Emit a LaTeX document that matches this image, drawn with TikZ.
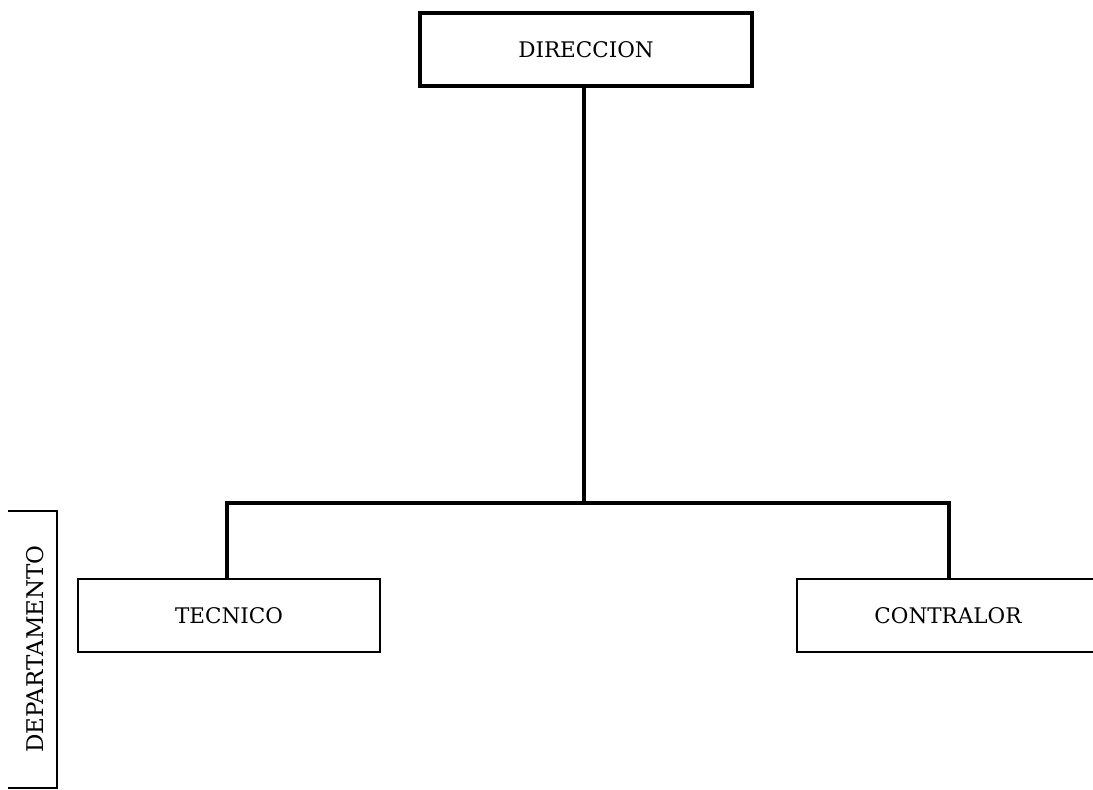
\documentclass[tikz,border=0pt]{standalone}
\usepackage{fontspec}
\setmainfont{DejaVu Serif}
\usepackage{tikz}
\begin{document}
\begin{tikzpicture}[x=1pt,y=-1pt,
  lbl/.style={font=\fontsize{21.5}{25}\selectfont},
  topbox/.style={lbl, draw, line width=4pt, minimum width=332pt, minimum height=73pt, inner sep=0pt},
  deptbox/.style={lbl, draw, line width=2.4pt, minimum width=302pt, minimum height=73pt, inner sep=0pt},
  link/.style={line width=4.5pt},
  bracket/.style={line width=2pt}]
\useasboundingbox (0,0) rectangle (1093,790);
\clip (0,0) rectangle (1093,790);
\node[topbox] (dir) at (586,49.5) {DIRECCION};
\node[deptbox] (tec) at (229,615.5) {TECNICO};
\node[deptbox] (con) at (948,615.5) {CONTRALOR};
\coordinate (busL) at (227,503);
\coordinate (busR) at (949,503);
\coordinate (busM) at (584,503);
\draw[link] (dir.south -| busM) -- (busM);
\draw[link] ([xshift=-2pt]busL) -- ([xshift=2pt]busR);
\draw[link] (busL) -- (busL |- tec.north);
\draw[link] (busR) -- (busR |- con.north);
\node[lbl, font=\fontsize{23}{26}\selectfont, rotate=90, inner sep=0pt] (dep) at (35,649) {DEPARTAMENTO};
\coordinate (bt) at (57,511);
\coordinate (bb) at (57,788);
\coordinate (btl) at (8,511);
\coordinate (bbl) at (8,788);
\draw[bracket] (btl) -- (bt) -- (bb) -- (bbl);
\end{tikzpicture}
\end{document}
